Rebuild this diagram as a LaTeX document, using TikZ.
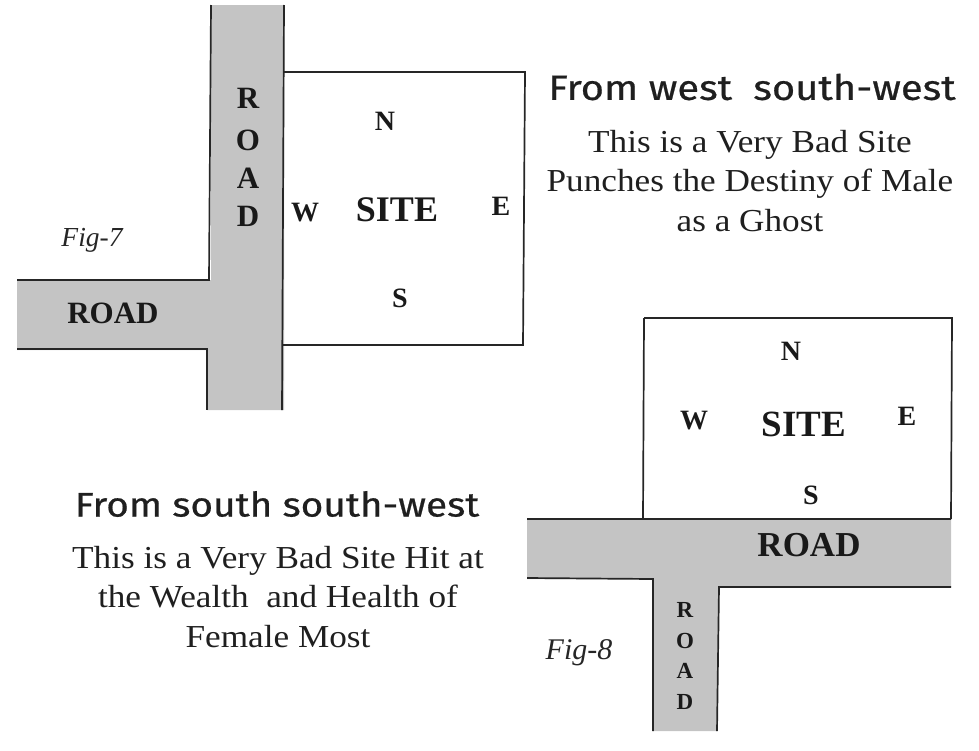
\documentclass[tikz,border=0pt]{standalone}
\usepackage{fontspec}
\setmainfont{Liberation Serif}
\newfontfamily\headfont[FakeStretch=1.14,FakeBold=0.6]{Fira Sans}
\newfontfamily\bodyfont[FakeStretch=1.1]{Liberation Serif}
\definecolor{roadgray}{gray}{0.77}
\tikzset{
 edge/.style={draw=black!85,line width=1.7pt},
 bold lbl/.style={font=\fontsize{#1}{#1}\selectfont\bfseries,text=black!90,inner sep=0pt},
 head/.style={font=\fontsize{#1}{#1}\headfont,text=black!88,inner sep=0pt},
 body/.style={font=\fontsize{32}{39.5}\bodyfont,text=black!88,inner sep=0pt,align=center},
 figl/.style={font=\fontsize{#1}{#1}\selectfont\itshape,text=black!85,inner sep=0pt},
}
\begin{document}
\begin{tikzpicture}[x=1pt,y=-1pt]
\useasboundingbox (0,0) rectangle (979,750);
% Fig 7 road
\fill[roadgray] (211,5) -- (284,5) -- (284,410) -- (207,410) -- (207,350) -- (17,350) -- (17,280) -- (211,280) -- cycle;
\draw[edge] (211,5) -- (209,280) -- (17,280);
\draw[edge] (17,349) -- (207,349) -- (207,410);
\draw[edge] (284,5) -- (282,410);
\draw[edge] (284,72) -- (525,72) -- (523,345) -- (283,345);
% Fig 8 road
\fill[roadgray] (527,519) -- (951,519) -- (951,587) -- (719,587) -- (717,731) -- (653,731) -- (653,579) -- (527,579) -- cycle;
\draw[edge] (644,318) -- (952,318) -- (951,519);
\draw[edge] (644,318) -- (643,519);
\draw[edge] (527,519) -- (951,519);
\draw[edge] (527,578) -- (653,579) -- (653,731);
\draw[edge] (951,587) -- (719,587) -- (717,731);
% Fig 7 labels
\node[bold lbl=31] (r1) at (248,98) {R};
\node[bold lbl=31] (r2) at (248,140) {O};
\node[bold lbl=31] (r3) at (248,178) {A};
\node[bold lbl=31] (r4) at (248,216) {D};
\node[bold lbl=28] (n7) at (385,121) {N};
\node[bold lbl=28] (w7) at (305,213) {W};
\node[bold lbl=36] (s7) at (397,210) {SITE};
\node[bold lbl=28] (e7) at (501,206) {E};
\node[bold lbl=28] (so7) at (400,298) {S};
\node[bold lbl=31] (rd7) at (113,313) {ROAD};
\node[figl=27.5] (f7) at (92,240) {Fig-7};
\node[head=35] (h7) at (752,87) {From west\ \ south-west};
\node[body] (b7) at (750,181) {This is a Very Bad Site\\Punches the Destiny of Male\\as a Ghost};
% Fig 8 labels
\node[bold lbl=28] (n8) at (791,351) {N};
\node[bold lbl=28] (w8) at (694,421) {W};
\node[bold lbl=37] (s8) at (804,424) {SITE};
\node[bold lbl=28] (e8) at (907,416) {E};
\node[bold lbl=28] (so8) at (811,495) {S};
\node[bold lbl=35] (rd8) at (809,545) {ROAD};
\node[bold lbl=23] (r5) at (685,610) {R};
\node[bold lbl=23] (r6) at (685,641) {O};
\node[bold lbl=23] (r7) at (685,671) {A};
\node[bold lbl=23] (r8) at (685,702) {D};
\node[figl=30] (f8) at (579,653) {Fig-8};
\node[head=34] (h8) at (277,504) {From south south-west};
\node[body] (b8) at (278,597) {This is a Very Bad Site Hit at\\the Wealth\ \ and Health of\\Female Most};
\end{tikzpicture}
\end{document}
